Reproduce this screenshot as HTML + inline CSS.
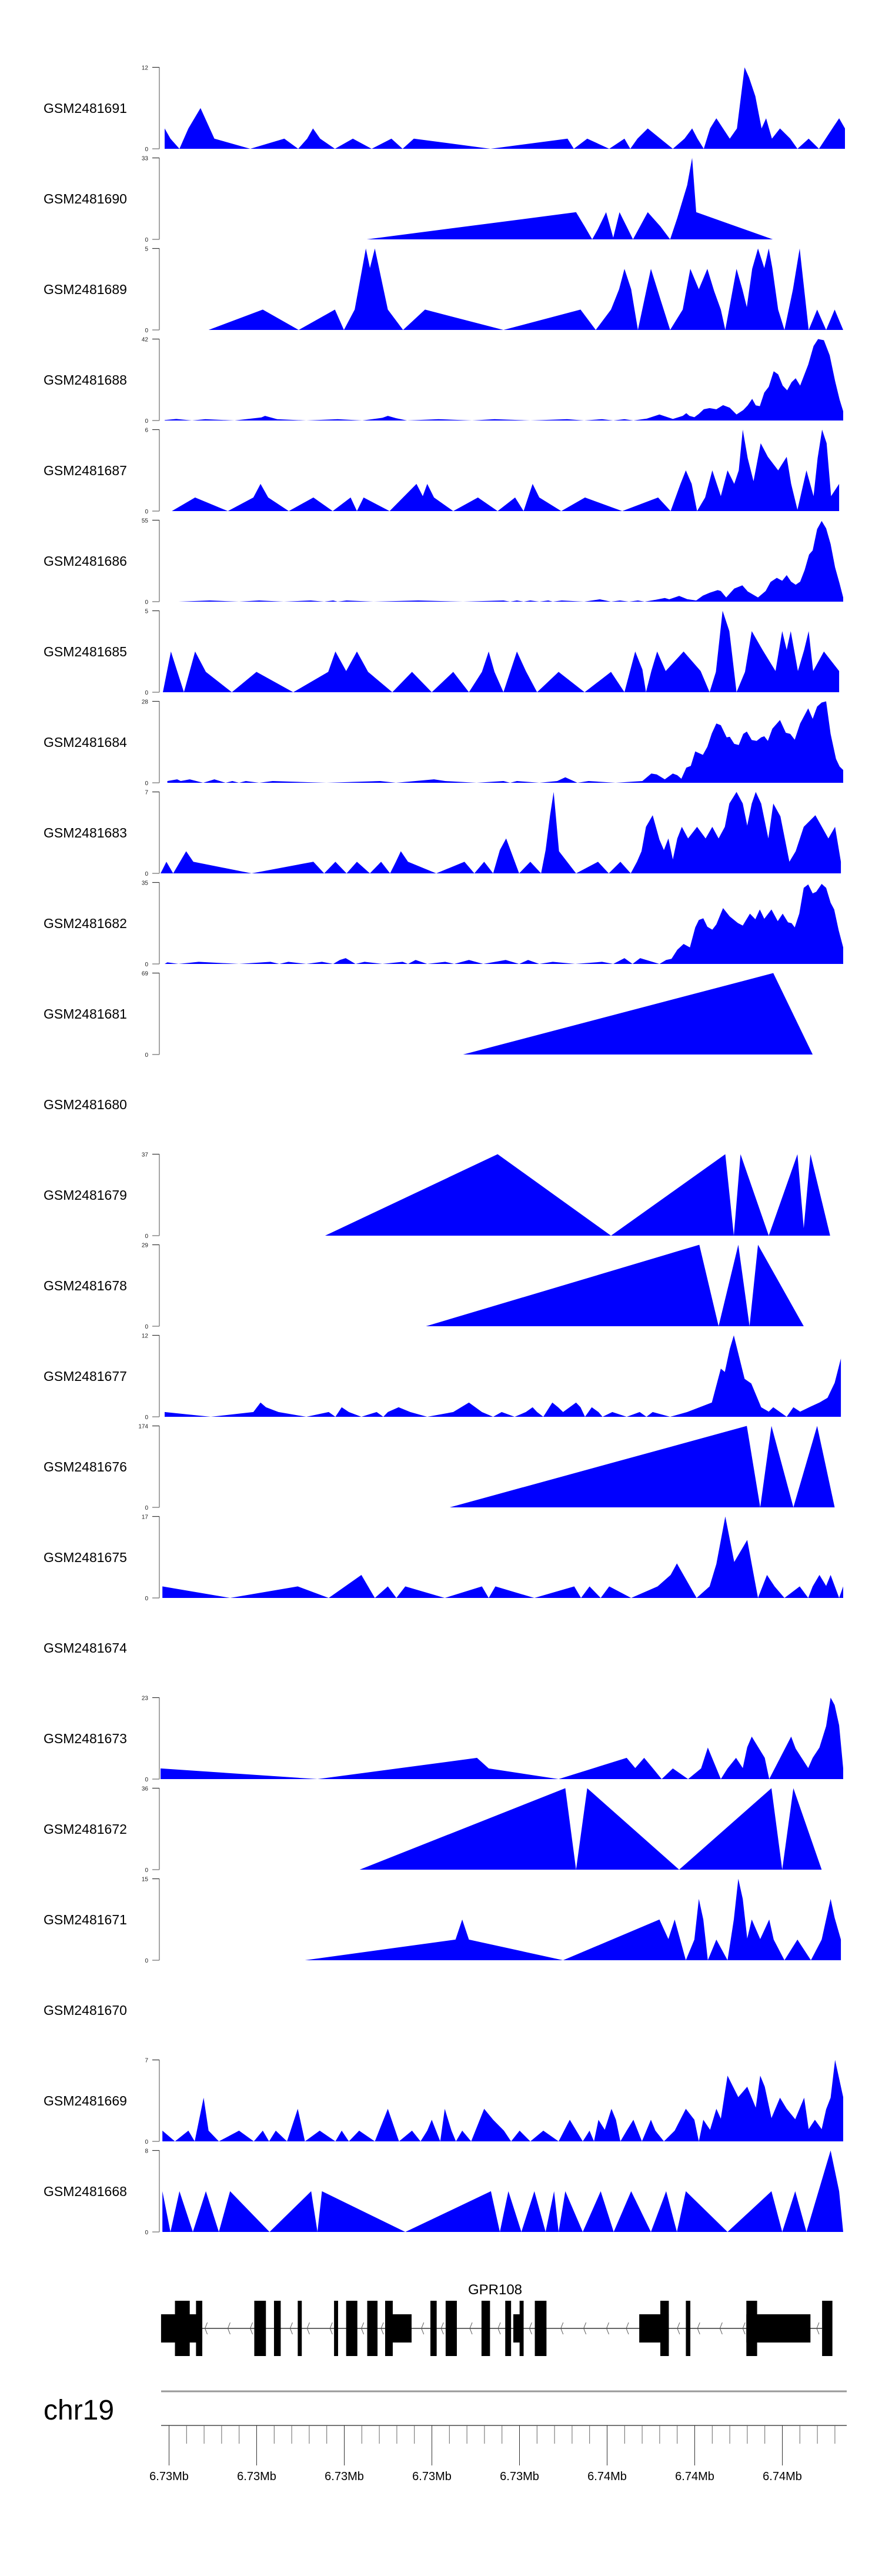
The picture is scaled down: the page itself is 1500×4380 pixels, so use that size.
<!DOCTYPE html>
<html><head><meta charset="utf-8"><style>
html,body{margin:0;padding:0;background:#fff;}
svg{display:block;font-family:"Liberation Sans",Arial,sans-serif;}
</style></head><body>
<svg id="chart" width="1500" height="4380" viewBox="0 0 1500 4380" xmlns="http://www.w3.org/2000/svg"></svg>
<script>
// ---- data ----
const sampleNames = ["GSM2481691","GSM2481690","GSM2481689","GSM2481688","GSM2481687","GSM2481686","GSM2481685","GSM2481684","GSM2481683","GSM2481682","GSM2481681","GSM2481680","GSM2481679","GSM2481678","GSM2481677","GSM2481676","GSM2481675","GSM2481674","GSM2481673","GSM2481672","GSM2481671","GSM2481670","GSM2481669","GSM2481668"];
const axisMax = [12,33,5,42,6,55,5,28,7,35,69,null,37,29,12,174,17,null,23,36,15,null,7,8];
const pos0 = [14,27,47,67,94,125,205,281,312,332,345,361,394,434,476,520,545,570,741,913,927,957,1006,1040,1053,1069,1092,1120,1148,1174,1191,1203,1217,1231,1245,1275,1291,1308,1318,1332,1346,1356,1369,1387,1410,1426,1451,1474,1507,1519,1532];
const val0 = [3,1.5,0,3,6,1.5,0,1.5,0,1.5,3,1.5,0,1.5,0,1.5,0,1.5,0,1.5,0,1.5,0,1.5,0,1.5,3,1.5,0,1.5,3,1.5,0,3,4.5,1.5,3,12,10.5,7.75,3,4.5,1.5,3,1.5,0,1.5,0,3.3,4.5,3];
const pos1 = [465,932,951,968,980,999,1015,1029,1044,1059,1092,1120,1142,1158,1180,1191,1200,1371];
const val1 = [0,11,5.3,0,3.9,11,0.7,11,5.5,0,11,5.3,0,8.7,22,33,11,0];
const pos2 = [112,233,313,394,414,438,463,472,483,512,546,595,770,942,976,1010,1028,1040,1055,1070,1099,1120,1142,1170,1187,1206,1225,1240,1255,1265,1290,1303,1313,1325,1338,1352,1362,1370,1383,1397,1416,1431,1451,1470,1490,1509,1528];
const val2 = [0,1.25,0,1.25,0,1.25,5,3.8,5,1.25,0,1.25,0,1.25,0,1.25,2.5,3.75,2.5,0,3.75,1.9,0,1.25,3.75,2.5,3.75,2.4,1.25,0,3.75,2.5,1.4,3.75,5,3.8,5,3.8,1.25,0,2.5,5,0,1.25,0,1.25,0];
const pos3 = [14,40,75,105,170,230,238,265,330,400,455,500,512,530,555,625,700,750,830,912,950,990,1015,1040,1060,1090,1118,1148,1170,1178,1185,1196,1206,1217,1230,1245,1260,1275,1290,1305,1315,1325,1333,1342,1352,1362,1373,1383,1393,1403,1413,1422,1432,1450,1462,1472,1485,1498,1510,1520,1528];
const val3 = [0.2,0.8,0,0.7,0,1.6,2.4,0.7,0,0.7,0,1.4,2.4,1.2,0,0.7,0,0.7,0,0.7,0,0.7,0,0.7,0,1,3.1,0.8,2.4,3.8,2.4,1.7,3.4,5.8,6.4,5.8,7.9,6.6,3.1,5.4,7.8,11.2,7.8,7.4,14.4,17.4,25.4,23.8,18,15.6,19.8,21.8,18,28.8,38.4,42,41.4,33.6,20.4,10.8,4.8];
const pos4 = [30,82,155,212,228,245,291,346,389,429,443,458,516,576,590,600,615,658,713,757,796,815,835,850,899,952,1035,1115,1143,1165,1177,1190,1202,1220,1236,1255,1270,1285,1295,1304,1315,1328,1344,1360,1383,1402,1412,1426,1446,1462,1471,1481,1491,1501,1519];
const val4 = [0,1,0,1,2,1,0,1,0,1,0,1,0,2,1.1,2,1,0,1,0,1,0,2,1,0,1,0,1,0,2,3,2,0,1,3,1.1,3,2,3,6,3.9,2.2,5,4,3,4,2,0.1,3,1.1,3.9,6,5,1.1,2];
const pos5 = [45,115,180,225,280,340,370,390,400,420,480,580,680,770,785,800,815,830,850,870,880,900,950,985,1010,1030,1050,1070,1085,1110,1130,1140,1162,1180,1200,1215,1230,1248,1255,1267,1285,1303,1315,1338,1355,1366,1380,1392,1402,1412,1422,1432,1442,1452,1460,1470,1480,1490,1500,1510,1520,1528];
const val5 = [0,0.8,0,0.8,0,0.8,0,0.8,0,0.8,0,0.8,0,0.8,0,0.8,0,0.8,0,0.8,0,0.8,0,1.6,0,0.8,0,0.8,0,1.3,2.5,1.6,3.9,1.7,0.8,4.1,6,7.8,7.2,2.8,8.8,11,6.9,2.8,7.2,13.3,16.1,14.1,17.9,13.5,11.4,13.5,21.3,31.8,34.6,49,54.5,49.5,38.9,23.2,12.2,2.8];
const pos6 = [10,28,57,70,82,106,164,219,301,379,395,419,443,468,522,566,610,658,693,722,737,750,770,800,820,845,893,951,1010,1040,1064,1080,1088,1100,1113,1132,1172,1210,1230,1244,1259,1274,1290,1309,1324,1348,1377,1392,1402,1411,1427,1441,1451,1461,1485,1519];
const val6 = [0,2.5,0,1.3,2.5,1.25,0,1.25,0,1.25,2.5,1.3,2.5,1.25,0,1.25,0,1.25,0,1.25,2.5,1.25,0,2.5,1.3,0,1.25,0,1.25,0,2.5,1.4,0,1.3,2.5,1.3,2.5,1.3,0,1.25,5,3.75,0,1.25,3.75,2.6,1.3,3.75,2.6,3.75,1.3,2.6,3.75,1.3,2.5,1.3];
const pos7 = [20,42,50,70,100,125,150,165,180,195,225,255,375,495,530,615,640,710,770,785,800,850,890,908,935,960,1020,1080,1100,1112,1130,1148,1158,1167,1178,1188,1198,1215,1225,1235,1245,1255,1268,1275,1285,1295,1305,1313,1324,1335,1345,1352,1360,1370,1387,1400,1410,1420,1432,1450,1460,1470,1480,1490,1500,1512,1520,1528];
const val7 = [0.6,1.2,0.6,1.2,0,1.2,0,0.6,0,0.6,0,0.6,0,0.6,0,1.2,0.6,0,0.6,0,0.6,0,0.6,1.9,0,0.6,0,0.6,3.2,2.9,1.2,3.2,2.6,1.4,5.2,5.8,10.8,9.6,12.4,17,20.4,19.8,15.6,15.8,13.4,13,16.8,17.6,14.7,14.4,15.6,16,14.4,18.6,21.6,17.2,16.8,14.8,20.4,25.6,22,26.2,27.6,28,16.8,8.2,5.6,4.4];
const pos8 = [5,18,33,62,78,208,346,370,395,420,443,472,497,517,530,541,557,620,683,705,727,747,762,776,805,830,854,864,874,882,894,932,981,1005,1031,1054,1068,1078,1088,1103,1118,1128,1138,1148,1158,1168,1182,1202,1221,1236,1250,1264,1274,1290,1304,1314,1324,1333,1345,1361,1372,1388,1408,1422,1440,1466,1495,1510,1523];
const val8 = [0,1,0,1.9,1,0,1,0,1,0,1,0,1,0,1,1.9,1,0,1,0,1,0,2,3,0,1,0,2,5,7,1.9,0,1,0,1,0,1,1.9,4,5,2.9,2,3,1.2,3,4,3,4,3,4,3,4,6,7,6,4.1,6,7,6,3,6,4.9,1,1.9,4,5,3,4,1];
const pos9 = [14,20,45,90,180,250,270,290,330,365,390,405,418,440,460,500,545,557,574,600,640,660,693,725,775,805,825,850,880,930,990,1015,1040,1058,1075,1118,1133,1145,1158,1172,1186,1198,1206,1216,1225,1236,1245,1260,1275,1293,1304,1320,1332,1342,1352,1368,1382,1393,1405,1413,1420,1430,1440,1450,1460,1468,1480,1490,1500,1508,1518,1528];
const val9 = [0,0.7,0,0.9,0,0.9,0,0.9,0,0.9,0,1.7,2.5,0,0.9,0,0.9,0,1.7,0,0.9,0,1.7,0,1.7,0,1.7,0,0.9,0,0.9,0,2.5,0,2.5,0,1.7,2.2,6.1,8.6,7.1,15.7,18.9,19.6,16,14.7,17,24,20.4,17.6,16.5,21.6,19.2,23.4,19.4,23.4,18.4,21.6,17.9,17.5,15.7,21.6,32.7,34.2,30.3,31,34.4,32.7,26.3,23.4,14.5,7.1];
const pos10 = [680,1372,1460];
const val10 = [0,69,0];
const pos12 = [372,757,1010,1265,1284,1299,1362,1426,1440,1455,1499];
const val12 = [0,37,0,37,0,37,0,37,3.4,37,0];
const pos13 = [597,1207,1250,1294,1319,1338,1440];
const val13 = [0,29,0,29,0,29,0];
const pos14 = [14,117,212,228,240,268,330,380,395,409,425,453,487,502,512,536,562,600,658,693,722,747,766,795,820,835,845,859,879,892,903,932,942,952,967,982,991,1013,1045,1074,1089,1103,1142,1180,1235,1255,1264,1275,1284,1308,1323,1345,1362,1372,1402,1417,1432,1455,1475,1493,1509,1523];
const val14 = [0.7,0,0.7,2.1,1.4,0.7,0,0.7,0,1.4,0.7,0,0.7,0,0.7,1.4,0.7,0,0.7,2.1,0.7,0,0.7,0,0.7,1.4,0.7,0,2.1,1.4,0.7,2.1,1.4,0,1.4,0.7,0,0.7,0,0.7,0,0.7,0,0.7,2.1,7.1,6.6,10,12,5.6,4.9,1.4,0.76,1.4,0,1.4,0.76,1.5,2.1,2.8,5,8.6];
const pos15 = [650,1313,1343,1368,1417,1470,1509];
const val15 = [0,174,0,174,0,174,0];
const pos16 = [9,160,311,380,453,483,512,531,551,639,722,737,752,839,928,943,962,987,1006,1055,1114,1143,1157,1201,1230,1245,1265,1285,1314,1338,1358,1375,1397,1431,1450,1460,1475,1490,1500,1519,1528];
const val16 = [2.4,0,2.4,0,4.8,0,2.4,0,2.4,0,2.4,0,2.4,0,2.4,0,2.4,0,2.4,0,2.4,4.8,7.2,0,2.4,7.1,17,7.5,12.1,0,4.8,2.4,0,2.4,0,2.4,4.8,2.5,4.8,0,2.4];
const pos18 = [5,355,711,737,893,1045,1064,1084,1103,1123,1148,1182,1211,1226,1255,1270,1289,1304,1314,1324,1353,1363,1412,1422,1450,1460,1475,1490,1500,1509,1519,1528];
const val18 = [3,0,6,3,0,6,3.1,6,3.1,0,3,0,3,8.9,0,3,6,3.1,9,12,6,0,12,8.6,3.1,6,8.9,15,23,20.9,15.2,3];
const pos19 = [449,908,932,957,1162,1368,1392,1417,1480];
const val19 = [0,36,0,36,0,36,0,36,0];
const pos20 = [327,663,678,693,903,1118,1138,1152,1177,1196,1206,1216,1226,1245,1270,1284,1294,1304,1314,1324,1343,1363,1373,1397,1426,1456,1480,1500,1509,1523];
const val20 = [0,3.8,7.5,3.8,0,7.5,3.9,7.5,0,3.8,11.3,7.5,0,3.8,0,7.5,15,11.3,4,7.5,3.9,7.5,3.8,0,3.8,0,3.8,11.3,7.8,3.8];
const pos22 = [9,37,67,81,101,112,135,180,213,233,247,262,287,311,327,360,395,409,425,448,483,512,537,566,585,600,610,629,639,654,664,678,698,727,747,771,787,806,830,859,893,918,947,962,972,982,996,1011,1021,1031,1045,1060,1079,1099,1109,1128,1152,1177,1196,1206,1216,1231,1245,1255,1270,1294,1314,1333,1343,1353,1368,1387,1402,1421,1441,1451,1465,1480,1490,1500,1510,1528];
const val22 = [0.92,0,0.92,0,3.75,0.92,0,0.92,0,0.92,0,0.92,0,2.8,0,0.92,0,0.92,0,0.92,0,2.8,0,0.92,0,0.92,1.86,0,2.8,0.92,0,0.92,0,2.8,1.86,0.92,0,0.92,0,0.92,0,1.86,0,0.92,0,1.86,1,2.8,1.86,0,0.92,1.86,0,1.86,0.92,0,0.92,2.8,1.86,0,1.86,1,2.8,1.95,5.65,3.8,4.7,2.9,5.65,4.7,2,3.75,2.8,1.9,3.75,1.05,1.86,1.05,2.76,3.75,7,3.8];
const pos23 = [9,27,47,77,106,135,160,248,341,355,365,551,742,762,781,810,839,864,883,893,908,947,987,1016,1055,1099,1133,1157,1177,1270,1368,1392,1421,1446,1500,1519,1528];
const val23 = [4,0,4,0,4,0,4,0,4,0,4,0,4,0,4,0,4,0,4,0,4,0,4,0,4,0,4,0,4,0,4,0,4,0,8,4,0];
const trackPos = [pos0,pos1,pos2,pos3,pos4,pos5,pos6,pos7,pos8,pos9,pos10,null,pos12,pos13,pos14,pos15,pos16,null,pos18,pos19,pos20,null,pos22,pos23];
const trackVal = [val0,val1,val2,val3,val4,val5,val6,val7,val8,val9,val10,null,val12,val13,val14,val15,val16,null,val18,val19,val20,null,val22,val23];
// gene model (same genomic coordinate domain)
const exonStarts = [37,84,214,258,311,392,419,466,506,607,641,721,774,806,840,1120,1177,1312,1481];
const exonEnds   = [70,98,240,273,320,401,444,489,523,621,666,740,787,815,866,1139,1187,1336,1504];
const utrStarts = [6,506,792,1073,1312];
const utrEnds   = [98,565,815,1139,1455];
const intronStart = 98, intronEnd = 1481;
const arrowPos = [104,155,205,294,332,383,453,497,587,631,695,758,828,898,949,1000,1044,1158,1203,1253,1304,1469];
const geneName = "GPR108";
const majorTickLabels = ["6.73Mb","6.73Mb","6.73Mb","6.73Mb","6.73Mb","6.74Mb","6.74Mb","6.74Mb"];

// ---- scales ----
const POS_MIN = 14, POS_MAX = 1532, X0 = 280, X1 = 1437;
function xScale(p){ return X0 + (p - POS_MIN) * (X1 - X0) / (POS_MAX - POS_MIN); }
const TRACK_TOP = 114.5, TRACK_PITCH = 154, TRACK_H = 138.5;
function trackTop(i){ return TRACK_TOP + i * TRACK_PITCH; }
function yScale(i, v){ const t = trackTop(i); return t + TRACK_H - (v / axisMax[i]) * TRACK_H; }

const NS = "http://www.w3.org/2000/svg";
const svg = document.getElementById('chart');
function mk(tag, attrs, parent){ const e = document.createElementNS(NS, tag); for (const k in attrs) e.setAttribute(k, attrs[k]); (parent||svg).appendChild(e); return e; }

sampleNames.forEach((name, i) => {
  const g = mk('g', {});
  
  
  const top = trackTop(i), bot = top + TRACK_H;
  const lab = mk('text', {x: 74, y: top + TRACK_H/2 + 8, 'font-size': 23, fill: '#000'}, g);
  lab.textContent = name;
  
  
  if (axisMax[i] === null) return;
  const ax = mk('line', {x1: 271, y1: top, x2: 271, y2: bot, stroke: '#888', 'stroke-width': 1.5}, g);
  
  
  mk('line', {x1: 259, y1: top, x2: 271, y2: top, stroke: '#333', 'stroke-width': 1.2}, g);
  mk('line', {x1: 259, y1: bot, x2: 271, y2: bot, stroke: '#888', 'stroke-width': 1.5}, g);
  const tmax = mk('text', {x: 252, y: top + 4, 'font-size': 10, 'text-anchor': 'end', fill: '#222'}, g);
  tmax.textContent = axisMax[i];
  
  
  const tmin = mk('text', {x: 252, y: bot + 4, 'font-size': 10, 'text-anchor': 'end', fill: '#222'}, g);
  tmin.textContent = '0';
  
  
  const P = trackPos[i], V = trackVal[i];
  let pts = [xScale(P[0]).toFixed(1) + ',' + bot.toFixed(1)];
  for (let k = 0; k < P.length; k++) pts.push(xScale(P[k]).toFixed(1) + ',' + yScale(i, V[k]).toFixed(1));
  pts.push(xScale(P[P.length-1]).toFixed(1) + ',' + bot.toFixed(1));
  const area = mk('polygon', {points: pts.join(' '), fill: '#0000FF', stroke: 'none'}, g);
  
  
});

// ---- gene track ----
const gg = mk('g', {});


const gl = mk('text', {x: 842, y: 3901, 'font-size': 24, 'text-anchor': 'middle', fill: '#000'}, gg);
gl.textContent = geneName;


const intr = mk('line', {x1: xScale(intronStart), y1: 3959, x2: xScale(intronEnd), y2: 3959, stroke: '#333', 'stroke-width': 1.5}, gg);


arrowPos.forEach(p => {
  const x = xScale(p);
  const a = mk('polyline', {points: (x+4)+',3949 '+x+',3959 '+(x+4)+',3969', fill: 'none', stroke: '#555', 'stroke-width': 1}, gg);
  
  
});
utrStarts.forEach((s, k) => {
  const r = mk('rect', {x: xScale(s), y: 3935, width: xScale(utrEnds[k]) - xScale(s), height: 48, fill: '#000'}, gg);
  
  
});
exonStarts.forEach((s, k) => {
  const r = mk('rect', {x: xScale(s), y: 3912, width: Math.max(2, xScale(exonEnds[k]) - xScale(s)), height: 94, fill: '#000'}, gg);
  
  
});

// ---- chromosome / genome axis ----
const ga = mk('g', {});


const chr = mk('text', {x: 74, y: 4114, 'font-size': 48, fill: '#000'}, ga);
chr.textContent = 'chr19';


const ideo = mk('line', {x1: 274, y1: 4066, x2: 1440, y2: 4066, stroke: '#999', 'stroke-width': 3}, ga);


const axl = mk('line', {x1: 274, y1: 4124, x2: 1440, y2: 4124, stroke: '#777', 'stroke-width': 2}, ga);


const TICK0 = 287.5, TICK_STEP = 29.8, N_TICKS = 39;
for (let t = 0; t < N_TICKS; t++) {
  const x = TICK0 + t * TICK_STEP;
  const major = t % 5 === 0;
  const tk = mk('line', {x1: x, y1: 4124, x2: x, y2: major ? 4192 : 4155, stroke: major ? '#333' : '#666', 'stroke-width': 1}, ga);
  
  
  if (major && majorTickLabels[t/5]) {
    const tl = mk('text', {x: x, y: 4217, 'font-size': 20, 'text-anchor': 'middle', fill: '#000'}, ga);
    tl.textContent = majorTickLabels[t/5];
    
    
  }
}
</script>
</body></html>
